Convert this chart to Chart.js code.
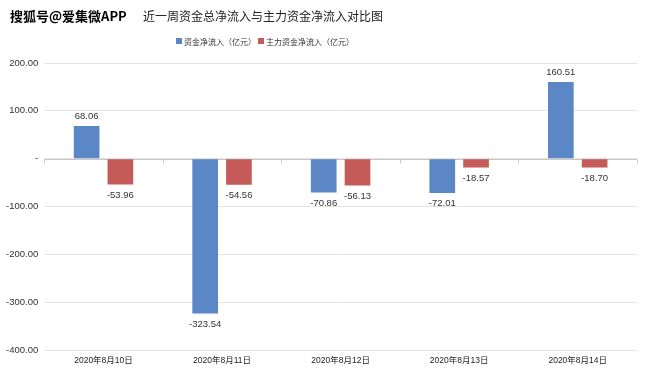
<!DOCTYPE html>
<html>
<head>
<meta charset="utf-8">
<script src="https://cdn.jsdelivr.net/npm/chart.js@4"></script>
<style>
  html, body { margin: 0; padding: 0; background: #fff; }
  #wrap { width: 649px; height: 374px; }
</style>
</head>
<body>
<div id="wrap"><canvas id="flowChart" width="649" height="374"></canvas></div>
<script>
var categories = ['2020年8月10日', '2020年8月11日', '2020年8月12日', '2020年8月13日', '2020年8月14日'];
var totalInflow = [68.06, -323.54, -70.86, -72.01, 160.51];
var mainInflow = [-53.96, -54.56, -56.13, -18.57, -18.70];
var seriesNames = ['资金净流入（亿元）', '主力资金净流入（亿元）'];

var numFont = '"Liberation Sans", Arial, "Noto Sans CJK SC", sans-serif';
var cjkFont = '"Noto Sans CJK SC", sans-serif';

// header, legend, zero line and value labels
var decor = {
  id: 'decor',
  beforeDatasetsDraw: function (chart) {
    var ctx = chart.ctx;
    var area = chart.chartArea;
    var y = Math.round(chart.scales.y.getPixelForValue(0)) + 0.5;
    ctx.save();
    ctx.strokeStyle = '#c8c8c8';
    ctx.lineWidth = 1;
    ctx.beginPath();
    ctx.moveTo(area.left, y);
    ctx.lineTo(area.right, y);
    var n = categories.length;
    for (var i = 0; i <= n; i++) {
      var x = Math.round(area.left + (area.right - area.left) * i / n) + 0.5;
      ctx.moveTo(x, y);
      ctx.lineTo(x, y + 4);
    }
    ctx.stroke();
    ctx.restore();
  },
  afterDatasetsDraw: function (chart) {
    var ctx = chart.ctx;
    ctx.save();
    ctx.font = '9.5px ' + numFont;
    ctx.fillStyle = '#333';
    ctx.textAlign = 'center';
    chart.data.datasets.forEach(function (ds, di) {
      chart.getDatasetMeta(di).data.forEach(function (bar, i) {
        var v = ds.data[i];
        if (v >= 0) {
          ctx.textBaseline = 'bottom';
          ctx.fillText(v.toFixed(2), bar.x, bar.y - 5);
        } else {
          ctx.textBaseline = 'top';
          ctx.fillText(v.toFixed(2), bar.x, bar.y + 6);
        }
      });
    });

    ctx.textBaseline = 'middle';
    ctx.textAlign = 'left';
    ctx.fillStyle = '#000';
    ctx.font = 'bold 13px ' + cjkFont;
    ctx.fillText('搜狐号@爱集微APP', 10, 16);
    ctx.fillStyle = '#222';
    ctx.font = '12px ' + cjkFont;
    ctx.fillText('近一周资金总净流入与主力资金净流入对比图', 143, 16);

    // legend
    ctx.font = '8px ' + cjkFont;
    var lx = 176;
    chart.data.datasets.forEach(function (ds) {
      ctx.fillStyle = ds.backgroundColor;
      ctx.fillRect(lx, 38, 6, 6);
      ctx.fillStyle = '#333';
      ctx.fillText(ds.label, lx + 8, 41.5);
      lx += 8 + ctx.measureText(ds.label).width + 2;
    });
    ctx.restore();
  }
};

new Chart(document.getElementById('flowChart'), {
  type: 'bar',
  data: {
    labels: categories,
    datasets: [{
      label: seriesNames[0],
      data: totalInflow,
      backgroundColor: '#5b87c7',
      barPercentage: 0.76,
      categoryPercentage: 0.57
    }, {
      label: seriesNames[1],
      data: mainInflow,
      backgroundColor: '#c55b59',
      barPercentage: 0.76,
      categoryPercentage: 0.57
    }]
  },
  options: {
    responsive: false,
    animation: false,
    layout: { padding: { top: 63, right: 12, bottom: 6, left: 0 } },
    plugins: {
      legend: { display: false },
      tooltip: { enabled: false }
    },
    scales: {
      x: {
        grid: { display: false, drawTicks: false },
        border: { display: false },
        afterFit: function (axis) { axis.height = 18; },
        ticks: { color: '#222', padding: 6, font: { size: 8.5, family: numFont }, maxRotation: 0 }
      },
      y: {
        min: -400,
        max: 200,
        border: { display: false },
        grid: { color: '#e3e3e3', drawTicks: false },
        ticks: {
          stepSize: 100,
          padding: 6,
          color: '#333',
          font: { size: 9.5, family: numFont },
          callback: function (v) { return v === 0 ? '-' : v.toFixed(2); }
        }
      }
    }
  },
  plugins: [decor]
});
</script>
</body>
</html>
